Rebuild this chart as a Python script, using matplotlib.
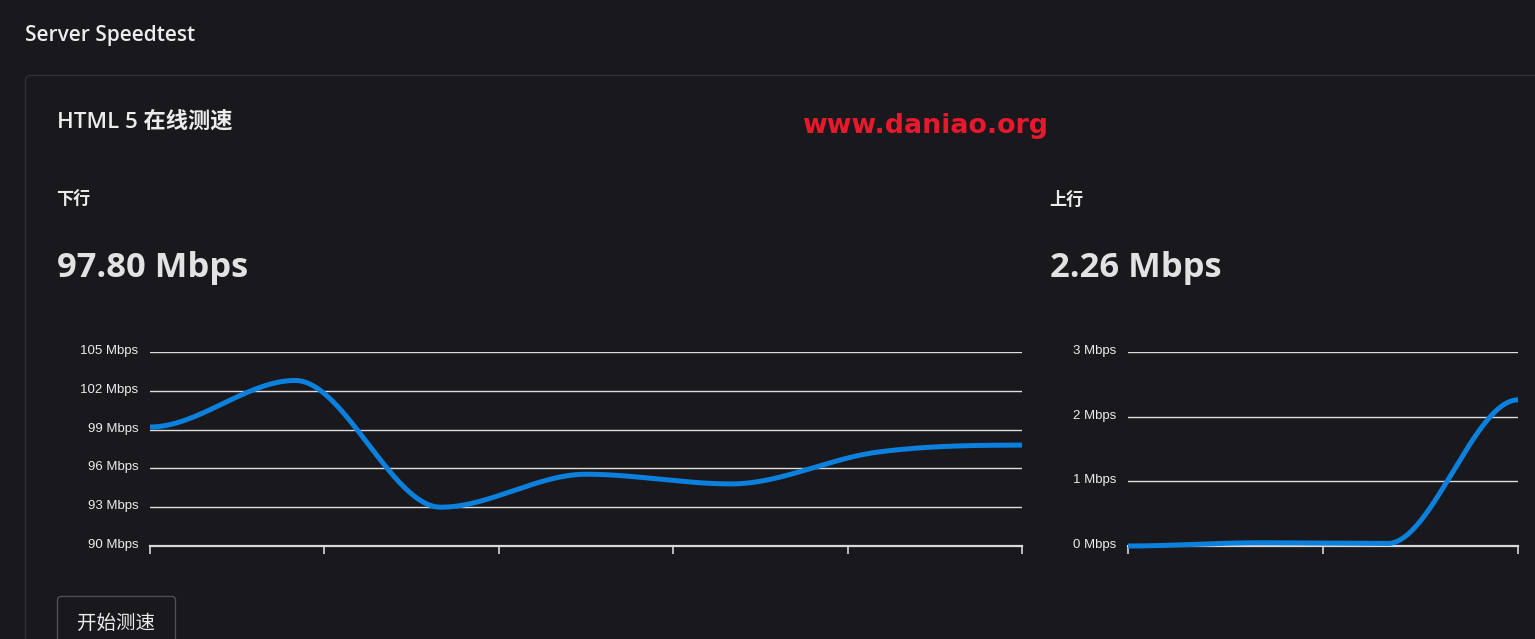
import numpy as np
import matplotlib
matplotlib.use("Agg")
import matplotlib.pyplot as plt
from matplotlib.patches import FancyBboxPatch
import matplotlib.transforms as mtransforms

# ---------------- data ----------------
down_x = [0.0, 0.833, 1.667, 2.5, 3.333, 4.167, 5.0]
down_y = [99.2, 102.8, 93.0, 95.55, 94.8, 97.25, 97.8]
down_yticks = [90, 93, 96, 99, 102, 105]
down_ylabels = ["90 Mbps", "93 Mbps", "96 Mbps", "99 Mbps", "102 Mbps", "105 Mbps"]
down_xticks = [0, 1, 2, 3, 4, 5]

up_x = [0.0, 0.667, 1.333, 2.0]
up_y = [0.0, 0.05, 0.04, 2.26]
up_yticks = [0, 1, 2, 3]
up_ylabels = ["0 Mbps", "1 Mbps", "2 Mbps", "3 Mbps"]
up_xticks = [0, 1, 2]

title = "Server Speedtest"
card_title = "HTML 5 在线测速"
watermark = "www.daniao.org"
down_label, up_label = "下行", "上行"
down_value, up_value = "97.80 Mbps", "2.26 Mbps"
button_text = "开始测速"

BG = "#19181d"
LINE = "#0b80dc"
GRID = "#dcdcdc"
TXT = "#ececec"

W, H = 1535, 639


def monotone(x, y, n=800):
    """Monotone cubic Hermite interpolation with flat end tangents."""
    x = np.asarray(x, float); y = np.asarray(y, float)
    h = np.diff(x); d = np.diff(y) / h
    m = np.zeros_like(y)
    for k in range(1, len(y) - 1):
        if d[k - 1] * d[k] <= 0:
            m[k] = 0
        else:
            m[k] = (d[k - 1] + d[k]) / 2
    for k in range(len(d)):
        if d[k] == 0:
            m[k] = m[k + 1] = 0
            continue
        a = m[k] / d[k]; b = m[k + 1] / d[k]
        s = a * a + b * b
        if s > 9:
            t = 3 / np.sqrt(s)
            m[k] = t * a * d[k]; m[k + 1] = t * b * d[k]
    xs = np.linspace(x[0], x[-1], n)
    ys = np.empty_like(xs)
    idx = np.clip(np.searchsorted(x, xs, side="right") - 1, 0, len(h) - 1)
    for i, (xv, k) in enumerate(zip(xs, idx)):
        t = (xv - x[k]) / h[k]
        h00 = 2 * t**3 - 3 * t**2 + 1
        h10 = t**3 - 2 * t**2 + t
        h01 = -2 * t**3 + 3 * t**2
        h11 = t**3 - t**2
        ys[i] = h00 * y[k] + h10 * h[k] * m[k] + h01 * y[k + 1] + h11 * h[k] * m[k + 1]
    return xs, ys


fig = plt.figure(figsize=(W / 100, H / 100), dpi=100, facecolor=BG)

bg_ax = fig.add_axes([0, 0, 1, 1])
bg_ax.set_xlim(0, W); bg_ax.set_ylim(H, 0); bg_ax.axis("off")
# card border
bg_ax.add_patch(FancyBboxPatch((25.5, 75.5), 1600, 700,
                               boxstyle="round,pad=0,rounding_size=5",
                               fc="none", ec="#2f2f35", lw=1.0))
# button
bg_ax.add_patch(FancyBboxPatch((57.5, 596.5), 118, 80,
                               boxstyle="round,pad=0,rounding_size=4",
                               fc="none", ec="#505057", lw=1.0))

cjk = ["Open Sans", "Noto Sans CJK SC", "DejaVu Sans"]
cjk_first = ["Noto Sans CJK SC", "DejaVu Sans"]

bg_ax.text(25, 35, title, color=TXT, fontsize=15, fontweight="semibold",
           family=cjk, va="center", ha="left")
bg_ax.text(57, 122, card_title, color=TXT, fontsize=16, fontweight="semibold",
           family=cjk, va="center", ha="left")
bg_ax.text(802, 126, watermark, color="#e8192c", fontsize=19.3, fontweight="bold",
           family="DejaVu Sans", va="center", ha="left")
bg_ax.text(56, 200, down_label, color=TXT, fontsize=12.3, fontweight="bold",
           family=cjk_first, va="center", ha="left")
bg_ax.text(1049, 200, up_label, color=TXT, fontsize=12.3, fontweight="bold",
           family=cjk_first, va="center", ha="left")
bg_ax.text(57, 268, down_value, color="#e2e2e2", fontsize=24.8, fontweight="bold",
           family=cjk, va="center", ha="left")
bg_ax.text(1050, 268, up_value, color="#e2e2e2", fontsize=24.8, fontweight="bold",
           family=cjk, va="center", ha="left")
bg_ax.text(116.5, 623, button_text, color=TXT, fontsize=14,
           family=cjk_first, va="center", ha="center")


def make_chart(px0, px1, xs, ys, xticks, yticks, ylabels):
    top, bot = 352, 546
    ax = fig.add_axes([px0 / W, 1 - bot / H, (px1 - px0) / W, (bot - top) / H])
    ax.set_facecolor("none")
    ax.set_xlim(xticks[0], xticks[-1])
    ax.set_ylim(yticks[0], yticks[-1])
    for s in ["top", "right", "left"]:
        ax.spines[s].set_visible(False)
    ax.spines["bottom"].set_color("#d8d8d8")
    ax.spines["bottom"].set_linewidth(1.6)
    for yv in yticks[1:]:
        ax.axhline(yv, color=GRID, lw=1.0, zorder=1)
    ax.set_xticks(xticks)
    ax.set_xticklabels([])
    ax.tick_params(axis="x", direction="out", length=6, width=1.2, colors="#d8d8d8")
    ax.set_yticks(yticks)
    ax.set_yticklabels(ylabels)
    ax.tick_params(axis="y", length=0, pad=8.5, labelsize=9.5, labelcolor=TXT)
    offset = mtransforms.ScaledTranslation(0, 2.5 / 100, fig.dpi_scale_trans)
    for lab in ax.get_yticklabels():
        lab.set_fontfamily("Liberation Sans")
        lab.set_transform(lab.get_transform() + offset)
    sx, sy = monotone(xs, ys)
    ax.plot(sx, sy, color=LINE, lw=3.6, solid_capstyle="butt", zorder=3, clip_on=False)
    return ax


make_chart(150, 1022, down_x, down_y, down_xticks, down_yticks, down_ylabels)
make_chart(1128, 1518, up_x, up_y, up_xticks, up_yticks, up_ylabels)

fig.savefig("out.png", dpi=100, facecolor=BG)
